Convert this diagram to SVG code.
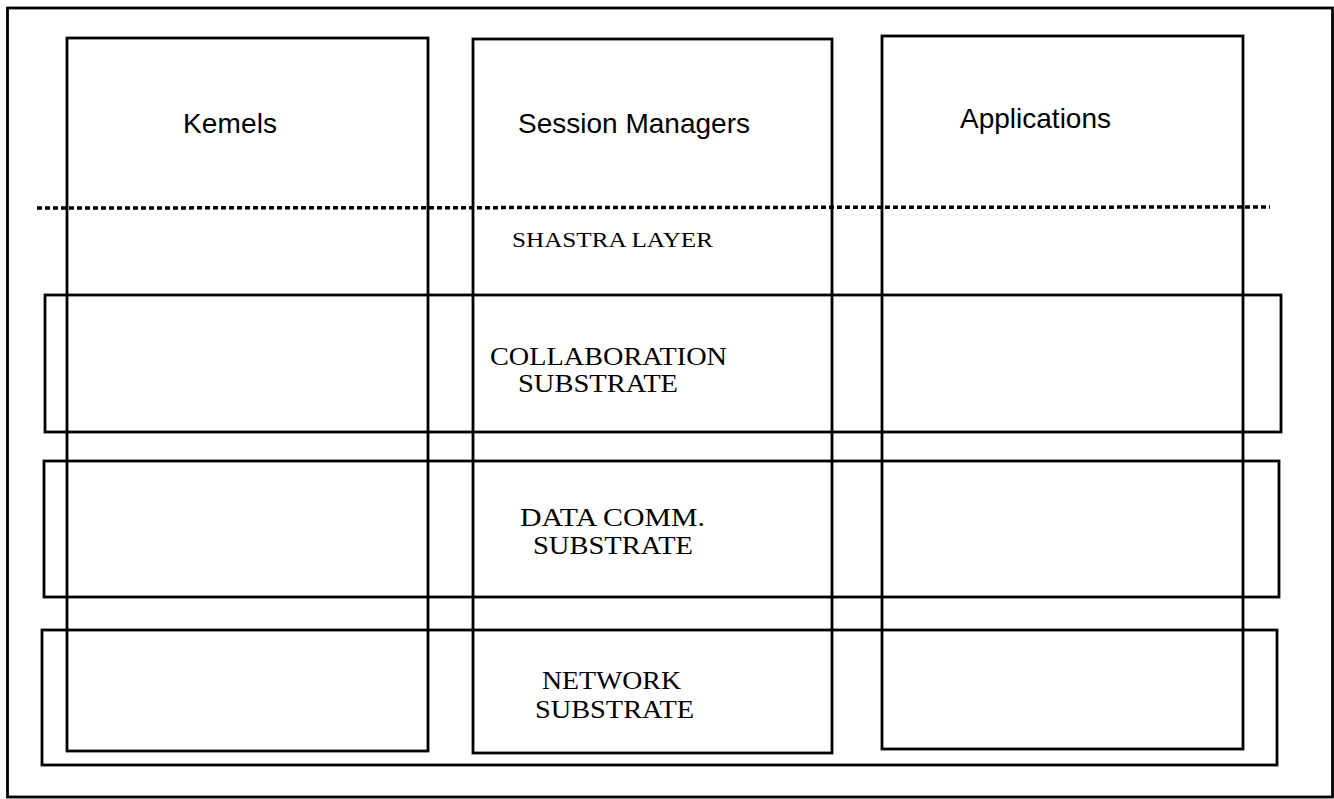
<svg xmlns="http://www.w3.org/2000/svg" width="1334" height="799" viewBox="0 0 1334 799">
<style>
.box{fill:none;stroke:#000;stroke-width:2.8}
.sans{font-family:"Liberation Sans",Arial,sans-serif;font-size:28px;fill:#000}
.serif{font-family:"Liberation Serif","Times New Roman",serif;font-size:25px;fill:#000}
.dash{stroke:#000;stroke-width:3.5;stroke-dasharray:5 3;fill:none}
</style>
<rect width="1334" height="799" fill="#fff"/>
<g id="frame"><rect class="box" x="7.5" y="8" width="1325" height="789"/></g>
<g id="kernels"><rect class="box" x="67" y="38" width="361" height="713"/><text class="sans" x="183" y="133" textLength="94">Kemels</text></g>
<g id="session-managers"><rect class="box" x="473" y="39" width="359" height="714"/><text class="sans" x="518" y="133" textLength="232">Session Managers</text></g>
<g id="applications"><rect class="box" x="882" y="36" width="361" height="713"/><text class="sans" x="960" y="128" textLength="151">Applications</text></g>
<g id="shastra-layer"><text class="serif" x="512" y="247" style="font-size:20px" textLength="201" lengthAdjust="spacingAndGlyphs">SHASTRA LAYER</text></g>
<g id="collaboration-substrate"><rect class="box" x="45" y="295" width="1236" height="137"/><text class="serif" x="490" y="365" textLength="237" lengthAdjust="spacingAndGlyphs">COLLABORATION</text><text class="serif" x="518" y="392" textLength="160" lengthAdjust="spacingAndGlyphs">SUBSTRATE</text></g>
<g id="data-comm-substrate"><rect class="box" x="44" y="461" width="1235" height="136"/><text class="serif" x="520" y="526" textLength="185" lengthAdjust="spacingAndGlyphs">DATA  COMM.</text><text class="serif" x="533" y="554" textLength="160" lengthAdjust="spacingAndGlyphs">SUBSTRATE</text></g>
<g id="network-substrate"><rect class="box" x="42" y="630" width="1235" height="135"/><text class="serif" x="542" y="689" textLength="139" lengthAdjust="spacingAndGlyphs">NETWORK</text><text class="serif" x="535" y="718" textLength="159" lengthAdjust="spacingAndGlyphs">SUBSTRATE</text></g>
<g id="connectors"><line class="dash" x1="37" y1="208" x2="1270" y2="207"/></g>
</svg>
